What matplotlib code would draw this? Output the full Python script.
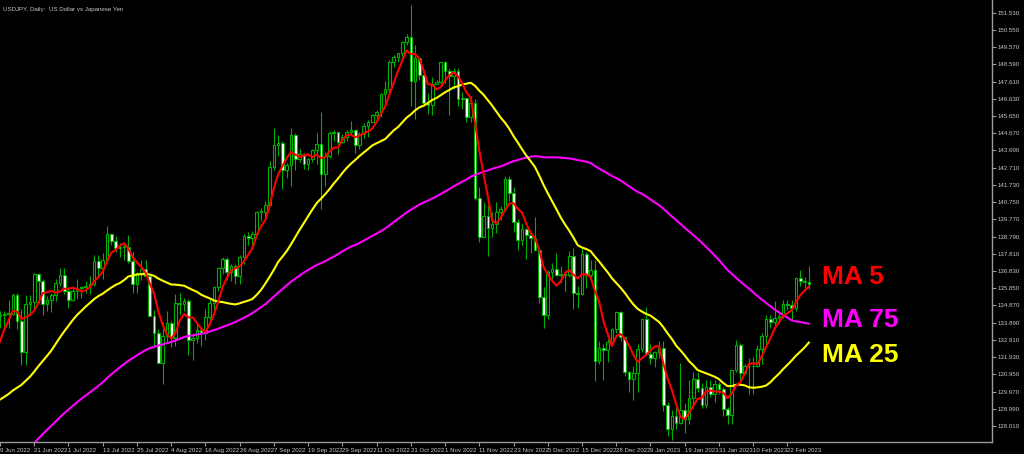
import numpy as np
import pandas as pd
import matplotlib
matplotlib.use("Agg")
import matplotlib.pyplot as plt
from matplotlib import font_manager

# USDJPY daily bars, 9 Jun 2022 .. 1 Mar 2023 (as shown on the chart)
dates = (
    ["2022-06-%02d" % d for d in [9, 10, 13, 14, 15, 16, 17, 20, 21, 22, 23, 24, 27, 28, 29, 30]]
    + ["2022-07-%02d" % d for d in [1, 4, 5, 6, 7, 8, 11, 12, 13, 14, 15, 18, 19, 20, 21, 22, 25, 26, 27, 28, 29]]
    + ["2022-08-%02d" % d for d in [1, 2, 3, 4, 5, 8, 9, 10, 11, 12, 15, 16, 17, 18, 19, 22, 23, 24, 25, 26, 29, 30, 31]]
    + ["2022-09-%02d" % d for d in [1, 2, 5, 6, 7, 8, 9, 12, 13, 14, 15, 16, 19, 20, 21, 22, 23, 26, 27, 28, 29, 30]]
    + ["2022-10-%02d" % d for d in [3, 4, 5, 6, 7, 10, 11, 12, 13, 14, 17, 18, 19, 20, 21, 24, 25, 26, 27, 28, 30, 31]]
    + ["2022-11-%02d" % d for d in [1, 2, 3, 4, 7, 8, 9, 10, 11, 14, 15, 16, 17, 18, 21, 22, 23, 24, 25, 28, 29, 30]]
    + ["2022-12-%02d" % d for d in [1, 2, 5, 6, 7, 8, 9, 12, 13, 14, 15, 16, 19, 20, 21, 22, 23, 27, 28, 29, 30]]
    + ["2023-01-%02d" % d for d in [2, 3, 4, 5, 6, 9, 10, 11, 12, 13, 16, 17, 18, 19, 20, 23, 24, 25, 26, 27, 30, 31]]
    + ["2023-02-%02d" % d for d in [1, 2, 3, 6, 7, 8, 9, 10, 13, 14, 15, 16, 17, 20, 21, 22, 23, 24, 27, 28]]
    + ["2023-03-01"]
)

open_ = [
    134.25, 134.35, 134.4, 134.4, 135.45, 134.0, 132.2, 134.95, 135.05, 136.65, 136.25, 134.95, 135.2, 135.45, 136.15, 136.6,
    135.7, 135.2, 135.7, 135.85, 135.9, 136.0, 136.1, 137.4, 137.0, 137.45, 138.95, 138.55, 138.15, 138.2, 138.2, 137.4, 136.1, 136.7, 136.95, 136.55, 134.25,
    133.3, 131.6, 133.15, 133.85, 133.0, 135.0, 134.95, 135.1, 132.9, 133.0, 133.45, 133.3, 134.2, 135.0, 135.9, 137.0, 137.5, 136.75, 137.1, 136.55, 137.65, 138.8, 138.7,
    138.95, 140.2, 140.2, 140.6, 142.75, 144.0, 144.1, 142.55, 142.85, 144.55, 143.2, 143.5, 142.9, 143.2, 143.7, 144.05, 142.35, 143.35, 144.7, 144.75, 144.15, 144.45,
    144.75, 144.85, 144.0, 144.6, 145.1, 145.3, 145.7, 145.85, 146.9, 147.2, 148.7, 149.0, 149.25, 149.85, 150.15, 147.65, 148.95, 148.0, 146.4, 146.3, 147.5, 147.6,
    148.7, 148.2, 147.9, 148.2, 146.6, 146.65, 145.6, 146.4, 141.0, 138.75, 139.95, 139.3, 139.5, 140.2, 140.35, 142.05, 141.25, 139.6, 138.6, 139.2, 138.9, 138.7,
    138.05, 135.35, 134.3, 136.75, 136.95, 136.6, 136.6, 136.6, 137.7, 135.6, 135.5, 137.8, 136.6, 136.9, 131.7, 132.45, 132.35, 132.8, 133.5, 134.5, 133.05,
    131.1, 130.7, 131.0, 132.4, 134.1, 132.1, 131.9, 132.2, 132.45, 129.2, 127.85, 128.55, 128.2, 128.9, 128.4, 129.6, 130.7, 130.15, 129.2, 130.25, 129.85, 130.4,
    130.1, 128.95, 128.65, 131.2, 132.6, 131.05, 131.4, 131.45, 131.4, 132.4, 133.15, 134.1, 133.9, 134.15, 134.25, 134.95, 134.9, 134.7, 136.45, 136.25,
    136.2,
]
high = [
    134.55, 134.55, 135.2, 135.6, 135.6, 134.65, 135.45, 135.45, 136.7, 136.7, 136.4, 135.4, 135.55, 136.4, 137.0, 137.0,
    135.9, 135.95, 136.4, 136.0, 136.25, 136.55, 137.75, 137.75, 137.85, 139.4, 139.0, 138.8, 138.4, 138.35, 138.85, 137.9, 136.75, 137.45, 137.45, 136.6, 134.6,
    133.5, 133.9, 134.55, 134.0, 135.5, 135.55, 135.3, 135.25, 133.3, 133.85, 133.55, 134.65, 135.3, 136.0, 137.05, 137.6, 137.65, 137.25, 137.2, 137.75, 138.95, 139.05, 139.1,
    140.25, 140.4, 140.8, 143.1, 144.99, 144.55, 144.2, 143.0, 144.95, 144.7, 143.8, 143.55, 143.25, 143.75, 144.7, 145.9, 143.6, 144.8, 144.85, 144.75, 144.6, 144.85,
    145.35, 144.9, 144.75, 145.25, 145.45, 145.75, 146.0, 146.95, 147.65, 148.85, 149.1, 149.25, 149.9, 150.3, 151.95, 149.7, 149.0, 148.1, 146.95, 147.85, 147.7, 148.75,
    148.8, 148.3, 148.4, 148.4, 147.0, 146.7, 146.8, 146.6, 141.6, 140.75, 140.6, 140.2, 140.75, 140.55, 142.25, 142.25, 141.6, 139.8, 139.55, 139.3, 139.05, 139.9,
    138.2, 135.9, 136.9, 137.3, 137.85, 137.1, 136.85, 137.95, 138.15, 135.95, 138.2, 137.9, 137.45, 137.45, 132.85, 132.7, 132.95, 133.6, 134.5, 134.55, 133.1,
    131.15, 131.4, 132.7, 134.05, 134.8, 132.65, 132.3, 132.85, 132.85, 129.35, 128.9, 129.1, 131.6, 129.3, 130.6, 131.1, 131.1, 130.45, 130.6, 130.6, 130.65, 130.5,
    130.2, 129.1, 131.2, 132.9, 132.75, 131.55, 131.9, 131.95, 132.6, 133.3, 134.35, 134.35, 135.1, 134.4, 135.2, 135.15, 135.15, 136.5, 136.9, 136.5,
    137.1,
]
low = [
    133.6, 133.4, 133.6, 134.3, 133.5, 131.5, 131.5, 134.3, 134.6, 135.0, 134.3, 134.55, 134.5, 135.1, 135.95, 135.5,
    134.75, 135.1, 135.25, 135.3, 135.6, 135.5, 136.0, 136.55, 136.35, 137.4, 138.3, 137.9, 137.6, 137.45, 137.3, 135.6, 135.6, 136.3, 136.55, 134.25, 132.5,
    131.6, 130.4, 132.8, 132.5, 132.55, 134.35, 134.55, 132.05, 131.75, 132.75, 132.55, 132.9, 133.9, 134.6, 135.7, 136.65, 136.3, 136.25, 136.1, 136.1, 137.25, 138.3, 138.15,
    138.85, 139.7, 139.9, 140.55, 142.6, 143.35, 141.5, 142.1, 141.65, 142.55, 143.05, 142.65, 142.6, 143.05, 142.9, 140.35, 141.65, 143.25, 144.2, 143.5, 144.1, 144.2,
    144.6, 143.55, 143.75, 144.4, 144.45, 145.25, 145.35, 145.6, 146.3, 146.95, 148.45, 148.7, 148.9, 149.7, 146.2, 145.5, 147.7, 146.25, 145.75, 145.7, 147.45, 147.35,
    147.55, 145.7, 147.2, 146.2, 146.05, 145.3, 145.3, 140.85, 138.5, 138.75, 137.7, 138.75, 139.0, 139.75, 140.25, 140.8, 139.05, 138.05, 138.3, 137.5, 137.85, 137.95,
    135.0, 133.6, 134.1, 136.25, 136.55, 136.15, 135.7, 136.5, 134.65, 134.75, 135.45, 135.85, 136.35, 130.58, 131.55, 130.6, 131.65, 132.6, 133.3, 132.85, 130.85,
    129.95, 129.5, 129.95, 132.2, 132.05, 131.55, 131.35, 131.9, 128.85, 127.45, 127.22, 127.85, 128.1, 127.6, 128.1, 129.05, 129.95, 129.05, 129.05, 129.65, 129.4, 129.85,
    128.55, 128.1, 128.1, 131.1, 130.5, 130.95, 129.8, 129.8, 131.35, 131.55, 132.55, 133.6, 133.6, 133.85, 134.15, 134.6, 134.05, 134.55, 135.95, 135.85,
    135.8,
]
close = [
    134.35, 134.4, 134.4, 135.45, 134.0, 132.2, 134.95, 135.05, 136.65, 136.25, 134.95, 135.2, 135.45, 136.15, 136.6, 135.7,
    135.2, 135.7, 135.85, 135.9, 136.0, 136.1, 137.4, 137.0, 137.45, 138.95, 138.55, 138.15, 138.2, 138.2, 137.4, 136.1, 136.7, 136.95, 136.55, 134.25, 133.3,
    131.6, 133.15, 133.85, 133.0, 135.0, 134.95, 135.1, 132.9, 133.0, 133.45, 133.3, 134.2, 135.0, 135.9, 137.0, 137.5, 136.75, 137.1, 136.55, 137.65, 138.8, 138.7, 138.95,
    140.2, 140.2, 140.6, 142.75, 144.0, 144.1, 142.55, 142.85, 144.55, 143.2, 143.5, 142.9, 143.2, 143.7, 144.05, 142.35, 143.35, 144.7, 144.75, 144.15, 144.45, 144.75,
    144.85, 144.0, 144.6, 145.1, 145.3, 145.7, 145.85, 146.9, 147.2, 148.7, 149.0, 149.25, 149.85, 150.15, 147.65, 148.95, 148.0, 146.4, 146.3, 147.5, 147.6, 148.7,
    148.2, 147.9, 148.2, 146.6, 146.65, 145.6, 146.4, 141.0, 138.75, 139.95, 139.3, 139.5, 140.2, 140.35, 142.05, 141.25, 139.6, 138.6, 139.2, 138.9, 138.7, 138.05,
    135.35, 134.3, 136.75, 136.95, 136.6, 136.6, 136.6, 137.7, 135.6, 135.5, 137.8, 136.6, 136.9, 131.7, 132.45, 132.35, 132.8, 133.5, 134.5, 133.05, 131.1,
    130.7, 131.0, 132.4, 134.1, 132.1, 131.9, 132.2, 132.45, 129.2, 127.85, 128.55, 128.2, 128.9, 128.4, 129.6, 130.7, 130.15, 129.2, 130.25, 129.85, 130.4, 130.1,
    128.95, 128.65, 131.2, 132.6, 131.05, 131.4, 131.45, 131.4, 132.4, 133.15, 134.1, 133.9, 134.15, 134.25, 134.95, 134.9, 134.7, 136.45, 136.25, 136.2,
    136.1,
]

# closes before the visible window (needed so the moving averages start at the left edge)
pre_close = [
    114.7, 115.1, 115.0, 115.5, 115.55, 114.95,
    114.9, 115.5, 115.5, 114.85, 115.3, 115.65, 115.85, 116.15, 117.3, 118.15, 118.3, 118.7, 118.6, 119.15, 119.45, 120.8,
    121.2, 122.35, 122.05, 123.85, 122.85, 121.8, 121.7,
    122.5, 122.75, 123.6, 123.75, 123.95, 124.3, 125.35, 125.4, 125.6, 125.9, 126.4, 126.95, 128.9, 127.9, 128.4, 128.5,
    128.1, 127.2, 128.4, 130.9, 129.7,
    130.15, 130.1, 129.1, 130.2, 130.6, 130.3, 130.45, 129.95, 128.35, 129.2, 129.15, 129.35, 128.3, 127.75, 127.9, 127.9,
    126.85, 127.3, 127.1, 127.1, 127.6, 128.7,
    130.1, 129.9, 130.85, 131.9, 132.65, 134.2,
]

ma_periods = [5, 25, 75]
ma_colors = ["#ff0000", "#ffff00", "#ff00ff"]
ma_labels = ["MA 5", "MA 25", "MA 75"]

n = len(close)
x = np.arange(n)
o = np.array(open_)
h = np.array(high)
l = np.array(low)
c = np.array(close)

all_close = pd.Series(pre_close + close)
ma = {p: all_close.rolling(p).mean().to_numpy()[-n:] for p in ma_periods}

# small terminal-like font for the axis texts
installed = {f.name for f in font_manager.fontManager.ttflist}
if "Liberation Sans Narrow" in installed:
    small_font, small_size = "Liberation Sans Narrow", 5.2
else:
    small_font, small_size = "Liberation Sans", 4.4

fig = plt.figure(figsize=(10.24, 4.54), dpi=100, facecolor="black")
ax = fig.add_axes([0.0, 12 / 454, 992 / 1024, 442 / 454], facecolor="black")

green = "#00b000"
ax.vlines(x, l, h, color=green, linewidth=0.8, zorder=2)
up = c >= o
body = np.where(np.abs(c - o) < 0.03, 0.03, c - o)
ax.bar(x[up], body[up], bottom=o[up], width=0.62, facecolor="black",
       edgecolor=green, linewidth=0.8, zorder=3)
ax.bar(x[~up], body[~up], bottom=o[~up], width=0.62, facecolor="white",
       edgecolor=green, linewidth=0.8, zorder=3)

# draw order: MA 75, MA 25, MA 5 on top
for p, col in [(75, "#ff00ff"), (25, "#ffff00"), (5, "#ff0000")]:
    ax.plot(x, ma[p], color=col, linewidth=1.5, zorder=4)

ax.set_xlim(0.54, 231.8)
ax.set_ylim(127.096, 152.253)

# axis styling like the trading terminal
for side in ["top", "left"]:
    ax.spines[side].set_visible(False)
for side in ["right", "bottom"]:
    ax.spines[side].set_color("#9a9a9a")
    ax.spines[side].set_linewidth(1.0)

tick_idx = list(range(0, n, 8))
tick_lbl = [f"{d.day} {d:%b %Y}" for d in pd.to_datetime([dates[i] for i in tick_idx])]
ax.set_xticks(tick_idx)
ax.set_xticklabels(tick_lbl, ha="left", fontsize=small_size, family=small_font)
ax.tick_params(axis="x", colors="#9a9a9a", length=3, width=0.8, pad=1, labelcolor="#c8c8c8")

yt = [128.01 + 0.98 * k for k in range(25)]
ax.set_yticks(yt)
ax.set_yticklabels([f"{v:.3f}" for v in yt], fontsize=small_size, family=small_font)
ax.yaxis.tick_right()
ax.tick_params(axis="y", colors="#9a9a9a", length=3, width=0.8, pad=1, labelcolor="#c8c8c8")

ax.text(0.003, 0.985, "USDJPY, Daily:  US Dollar vs Japanese Yen", transform=ax.transAxes,
        fontsize=small_size, color="#c8c8c8", family=small_font, va="top", ha="left")

label_y = {"MA 5": 0.373, "MA 75": 0.276, "MA 25": 0.197}
for lbl, col in zip(ma_labels, ma_colors):
    ax.text(0.829, label_y[lbl], lbl, transform=ax.transAxes, fontsize=19, fontweight="bold",
            color=col, family="Liberation Sans", va="center", ha="left")

fig.savefig("out.png", dpi=100, facecolor="black")
